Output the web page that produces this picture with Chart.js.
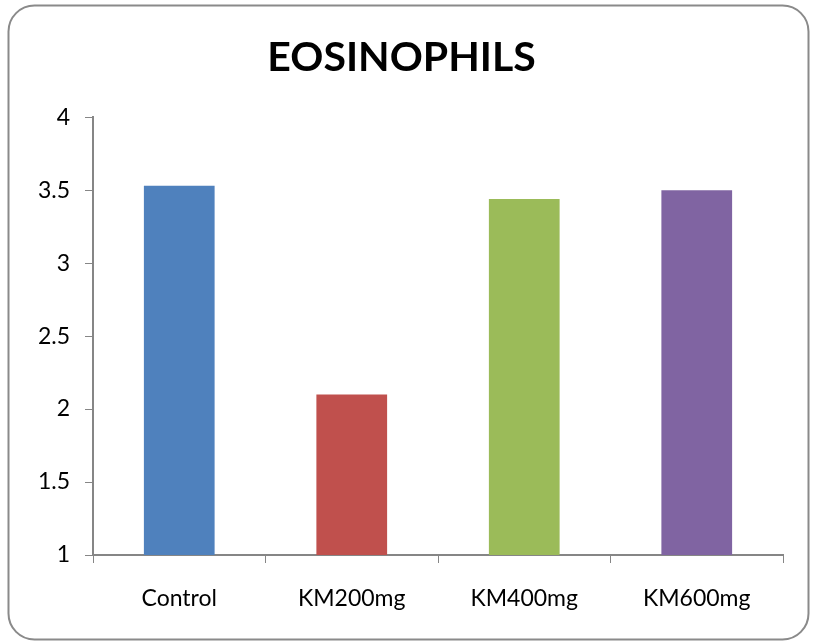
<!DOCTYPE html>
<html>
<head>
<meta charset="utf-8">
<script src="https://cdn.jsdelivr.net/npm/chart.js@4"></script>
<style>
  html, body { margin: 0; padding: 0; background: #fff; }
  #wrap { width: 815px; height: 643px; }
</style>
</head>
<body>
<div id="wrap"><canvas id="chart" width="815" height="643"></canvas></div>
<script>
// data
const categories = ['Control', 'KM200mg', 'KM400mg', 'KM600mg'];
const values = [3.53, 2.10, 3.44, 3.50];
const barColors = ['#4F81BD', '#C0504D', '#9BBB59', '#8064A2'];
const yTicks = [1, 1.5, 2, 2.5, 3, 3.5, 4];

// rounded frame behind the chart
const framePlugin = {
    id: 'frame',
    beforeDraw(chart) {
        const c = chart.ctx;
        c.save();
        c.fillStyle = '#fff';
        c.fillRect(0, 0, chart.width, chart.height);
        c.beginPath();
        c.roundRect(8.5, 5.5, 800, 634, 26);
        c.strokeStyle = '#8a8a8a';
        c.lineWidth = 2;
        c.stroke();
        c.restore();
    }
};

const axisGray = '#868686';

new Chart(document.getElementById('chart'), {
    type: 'bar',
    data: {
        labels: categories,
        datasets: [{
            label: 'EOSINOPHILS',
            data: values,
            backgroundColor: barColors,
            barPercentage: 0.41,
            categoryPercentage: 1.0
        }]
    },
    options: {
        responsive: false,
        animation: false,
        layout: { padding: { left: 20, right: 32, top: 0, bottom: 20 } },
        plugins: {
            legend: { display: false },
            tooltip: { enabled: false },
            title: {
                display: true,
                text: 'EOSINOPHILS',
                color: '#000',
                font: { family: 'Lato', size: 41, weight: 'bold' },
                padding: { top: 33, bottom: 35 }
            }
        },
        scales: {
            x: {
                grid: {
                    display: true,
                    drawOnChartArea: false,
                    drawTicks: true,
                    tickLength: 8,
                    color: axisGray,
                    offset: true
                },
                border: { color: axisGray, width: 2 },
                ticks: {
                    color: '#000',
                    font: { family: 'Lato', size: 23 },
                    padding: 22
                },
                afterFit(scale) { scale.height = 643 - 555 - 20; }
            },
            y: {
                min: 1,
                max: 4,
                afterBuildTicks(scale) {
                    scale.ticks = yTicks.map(v => ({ value: v }));
                },
                grid: {
                    display: true,
                    drawOnChartArea: false,
                    drawTicks: true,
                    tickLength: 8,
                    color: axisGray
                },
                border: { color: axisGray, width: 2 },
                ticks: {
                    color: '#000',
                    font: { family: 'Lato', size: 23 },
                    padding: 15,
                    callback: v => String(v)
                },
                afterFit(scale) { scale.width = 93 - 20; }
            }
        }
    },
    plugins: [framePlugin]
});
</script>
</body>
</html>
